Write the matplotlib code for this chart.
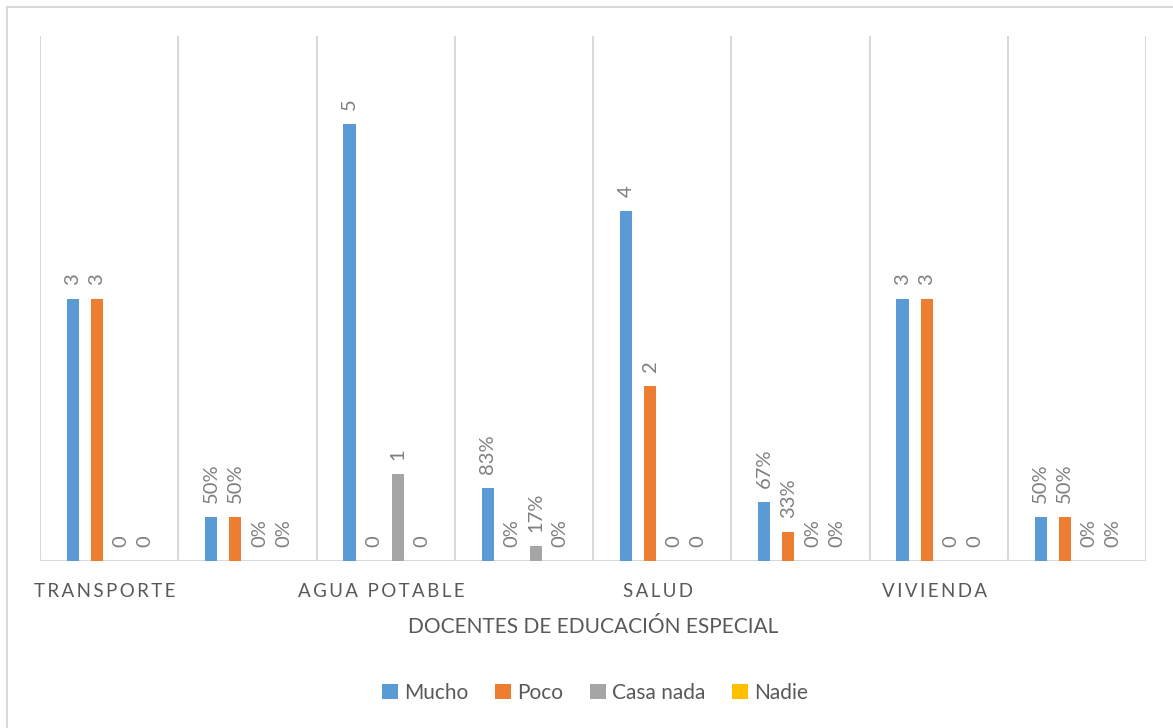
import numpy as np
import matplotlib.pyplot as plt
from matplotlib.patches import Rectangle

# datos
categorias = ["TRANSPORTE", "", "AGUA POTABLE", "", "SALUD", "", "VIVIENDA", ""]
es_porcentaje = [False, True, False, True, False, True, False, True]
mucho = [3, 0.50, 5, 0.83, 4, 0.67, 3, 0.50]
poco = [3, 0.50, 0, 0.00, 2, 0.33, 3, 0.50]
casa_nada = [0, 0.00, 1, 0.17, 0, 0.00, 0, 0.00]
nadie = [0, 0.00, 0, 0.00, 0, 0.00, 0, 0.00]
series = ["Mucho", "Poco", "Casa nada", "Nadie"]
colores = ["#5B9BD5", "#ED7D31", "#A5A5A5", "#FFC000"]

plt.rcParams['font.family'] = ['Lato', 'DejaVu Sans']

W, H = 1173, 728
fig = plt.figure(figsize=(W / 100, H / 100), dpi=100)
ax = fig.add_axes([40 / W, 1 - 561 / H, (1146 - 40) / W, (561 - 36) / H])

x = np.arange(len(categorias))
paso = 0.174
ancho = 0.088
valores = [mucho, poco, casa_nada, nadie]

for i, (vals, nombre, col) in enumerate(zip(valores, series, colores)):
    pos = x + (i - 1.5) * paso
    ax.bar(pos, vals, width=ancho, color=col, label=nombre, zorder=3)
    for xp, v, pct in zip(pos, vals, es_porcentaje):
        txt = f"{int(round(v * 100))}%" if pct else f"{v:g}"
        ax.annotate(txt, (xp, v), xytext=(0, 10), textcoords="offset points",
                    rotation=90, ha="center", va="bottom", fontsize=14.5,
                    color="#7F7F7F")

ax.set_xlim(-0.5, len(categorias) - 0.5)
ax.set_ylim(0, 6)

# lineas verticales entre grupos
for g in np.arange(-0.5, len(categorias), 1.0):
    ax.axvline(g, color="#D9D9D9", lw=1.5, zorder=1)
ax.axhline(0, color="#D9D9D9", lw=1.5, zorder=2)

for s in ax.spines.values():
    s.set_visible(False)
ax.set_yticks([])
ax.set_xticks([])

# etiquetas de categoria con espaciado entre letras
for xi, cat in zip(x, categorias):
    if cat:
        ax.text(xi - 0.03, -0.35, "\u2009".join(cat), ha="center", va="center",
                fontsize=13.5, color="#595959", transform=ax.transData)

fig.text(593 / W, 1 - 627 / H, "DOCENTES DE EDUCACIÓN ESPECIAL",
         ha="center", va="center", fontsize=15, color="#595959")

fig.legend(loc="center", bbox_to_anchor=(595 / W, 1 - 693 / H), ncol=4,
           frameon=False, fontsize=15, handlelength=0.75, handleheight=0.75,
           handletextpad=0.3, columnspacing=1.3, labelcolor="#595959")

# borde del grafico
fig.patches.append(Rectangle((7 / W, -0.1), 1.2, 0.1 + 1 - 7 / H,
                             transform=fig.transFigure, fill=False,
                             edgecolor="#D9D9D9", lw=1.5))

plt.savefig("out.png", dpi=100)
